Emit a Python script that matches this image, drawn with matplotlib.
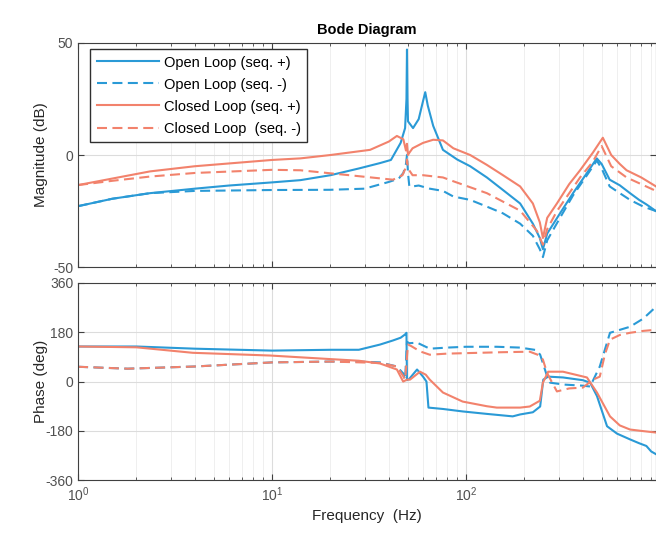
import matplotlib
matplotlib.use("Agg")
import matplotlib.pyplot as plt
from matplotlib.ticker import LogLocator, NullFormatter

plt.rcParams['font.family'] = ['Liberation Sans', 'DejaVu Sans']
plt.rcParams['mathtext.default'] = 'regular'
plt.rcParams['axes.unicode_minus'] = False

# Magnitude data (Hz, dB)
f_mag_ol_pos = [1, 1.5, 2.35, 4, 6, 10, 14, 20, 28, 36, 41, 46, 48.5, 49.3, 49.6, 49.9, 50.2, 53.3,
                57, 60, 61.6, 63.5, 67.7, 76, 90, 105, 128, 155, 190, 221, 240, 249, 262, 305,
                356, 420, 472, 500, 550, 620, 700, 780, 850, 953]
mag_ol_pos = [-22.8, -19.5, -17, -15, -13.6, -12.2, -11.2, -9, -6, -3.6, -2.2, 5.4, 12, 25, 47, 25,
              15, 12, 16, 24, 28, 22, 13, 2.3, -2, -5, -10, -15.6, -21.6, -30.6, -37, -42, -35,
              -26, -17, -8, -1.5, -4, -11, -13.5, -17, -20, -22, -25]

f_mag_ol_neg = [1, 1.5, 2.35, 4, 10, 20, 30, 40, 45, 47.5, 49, 49.6, 50.2, 51, 53, 57, 65, 76, 86,
                105, 128, 155, 190, 221, 240, 249, 262, 305, 356, 420, 472, 500, 550, 620, 700,
                820, 953]
mag_ol_neg = [-22.8, -19.5, -17, -16, -15.6, -15.5, -15, -12, -10.5, -8, -4, 0, -8, -14, -14,
              -13.6, -15, -16, -18.5, -20, -23, -26, -30.6, -36, -42, -45.5, -38, -28, -18, -9,
              -2.5, -6, -14, -17, -20, -23, -25]

f_mag_cl_pos = [1, 1.5, 2.35, 4, 10, 14, 20, 32, 40, 44, 47.5, 49, 49.6, 50.2, 51, 53, 60, 67.7,
                76, 86, 105, 128, 155, 190, 221, 240, 249, 262, 294, 340, 387, 450, 507, 560,
                620, 672, 800, 953]
mag_cl_pos = [-13.4, -10.5, -7.3, -5, -2.2, -1.5, 0, 2.3, 6, 8.5, 7, 2, 5, 0, 1, 3, 5.4, 6.8,
              6.5, 3, 0, -4.4, -9, -14, -21.6, -30, -37, -28, -21.6, -13, -6.8, 1, 7.7, 0, -4,
              -6.8, -10, -14]

f_mag_cl_neg = [1, 1.5, 2.35, 4, 10, 14, 25, 42, 47, 49.3, 49.6, 50.2, 53, 60, 76, 86, 128, 190,
                232, 249, 262, 294, 387, 450, 500, 560, 672, 800, 953]
mag_cl_neg = [-13.4, -11.5, -9.6, -8, -6.6, -6.8, -9, -11, -9, -5, -2, -6, -9, -9, -10, -11.7,
              -17, -24.8, -33.8, -40, -33, -25, -10, -3, 4, -5, -10, -13, -16]

# Phase data (Hz, deg)
f_ph_ol_pos = [1, 2, 4, 10, 20, 28, 36, 42, 46, 48.5, 49.3, 49.6, 51, 55.9, 60, 62.5, 64, 76,
               96, 128, 174, 190, 221, 241, 250, 265, 316, 400, 436, 473, 533, 600, 700, 780,
               850, 900, 953]
ph_ol_pos = [128, 128, 120, 113, 116, 116, 135, 150, 160, 172, 178, 5, 10, 44, 18, 0, -95, -100,
             -109, -118, -127, -120, -112, -91, 7, 18, 15, 5, -4, -53, -163, -190, -211, -225,
             -235, -255, -265]

f_ph_ol_neg = [1, 1.8, 4, 10, 20, 28, 36, 44, 47.4, 48.5, 49.6, 51, 55.9, 65, 80, 100, 144, 190,
               230, 241, 255, 262, 271, 320, 400, 436, 489, 552, 700, 820, 953]
ph_ol_neg = [54, 47, 55, 70, 73, 73, 70, 55, 30, 7, 145, 140, 142, 120, 124, 127, 127, 124, 115,
             98, 44, 18, -4, -11, -15, -18, 55, 178, 200, 230, 273]

f_ph_cl_pos = [1, 2, 3.9, 9.8, 20, 28, 36, 44, 47.4, 49.6, 51.4, 57.9, 62, 65, 76, 96, 128, 144,
               190, 213, 240, 249, 265, 316, 420, 473, 552, 620, 700, 800, 953]
ph_cl_pos = [128, 125, 105, 95, 82, 76, 66, 44, 0, 7, 7, 36, 25, 7, -40, -73, -90, -95, -95,
             -91, -70, -4, 36, 36, 15, -40, -127, -160, -175, -180, -186]

f_ph_cl_neg = [1, 1.8, 4, 10, 20, 36, 44, 47.4, 48.5, 50.2, 52, 58, 65, 80, 117, 150, 213, 240,
               249, 262, 294, 340, 400, 451, 489, 520, 552, 620, 700, 820, 953]
ph_cl_neg = [54, 47, 55, 70, 73, 68, 55, 20, 7, 135, 130, 110, 98, 102, 105, 107, 109, 95, 80,
             30, -36, -25, -22, 7, 18, 100, 153, 170, 178, 185, 189]

labels = ['Open Loop (seq. +)', 'Open Loop (seq. -)', 'Closed Loop (seq. +)', 'Closed Loop  (seq. -)']

blue = '#2a9ad6'
red = '#f2826c'
lw = 1.5
dash = (4.8, 2.6)

fig = plt.figure(figsize=(6.56, 5.42), dpi=100)
ax1 = fig.add_axes([0.119, 0.507, 0.881, 0.414])
ax2 = fig.add_axes([0.119, 0.114, 0.881, 0.364])

ax1.semilogx(f_mag_ol_pos, mag_ol_pos, color=blue, lw=lw, label=labels[0])
ax1.semilogx(f_mag_ol_neg, mag_ol_neg, color=blue, lw=lw, dashes=dash, label=labels[1])
ax1.semilogx(f_mag_cl_pos, mag_cl_pos, color=red, lw=lw, label=labels[2])
ax1.semilogx(f_mag_cl_neg, mag_cl_neg, color=red, lw=lw, dashes=dash, label=labels[3])

ax2.semilogx(f_ph_ol_pos, ph_ol_pos, color=blue, lw=lw)
ax2.semilogx(f_ph_ol_neg, ph_ol_neg, color=blue, lw=lw, dashes=dash)
ax2.semilogx(f_ph_cl_pos, ph_cl_pos, color=red, lw=lw)
ax2.semilogx(f_ph_cl_neg, ph_cl_neg, color=red, lw=lw, dashes=dash)

ax1.set_ylim(-50, 50)
ax1.set_yticks([-50, 0, 50])
ax2.set_ylim(-360, 360)
ax2.set_yticks([-360, -180, 0, 180, 360])

for ax in (ax1, ax2):
    ax.set_xlim(1, 953)
    ax.xaxis.set_major_locator(LogLocator(base=10, numticks=10))
    ax.xaxis.set_minor_locator(LogLocator(base=10, subs=range(2, 10), numticks=20))
    ax.xaxis.set_minor_formatter(NullFormatter())
    ax.grid(True, which='major', color='#dcdcdc', lw=0.8)
    ax.grid(True, which='minor', axis='x', color='#ececec', lw=0.6)
    ax.set_axisbelow(True)
    ax.tick_params(which='both', direction='in', top=True, right=True, colors='#404040',
                   labelcolor='#505050', labelsize=10)
    ax.tick_params(which='major', length=4)
    ax.tick_params(which='minor', length=2)
    for s in ax.spines.values():
        s.set_color('#404040')
        s.set_linewidth(0.8)

ax1.tick_params(labelbottom=False)
ax1.set_ylabel('Magnitude (dB)', fontsize=11, color='#262626')
ax2.set_ylabel('Phase (deg)', fontsize=11, color='#262626')
ax2.set_xlabel('Frequency  (Hz)', fontsize=11, color='#262626')
ax1.yaxis.set_label_coords(-0.052, 0.5)
ax2.yaxis.set_label_coords(-0.052, 0.5)
ax1.set_title('Bode Diagram', fontsize=10.5, fontweight='bold', pad=6)

leg = ax1.legend(loc='upper left', bbox_to_anchor=(0.008, 1.005), fontsize=10.5, frameon=True,
                 fancybox=False, edgecolor='#303030', framealpha=1, handlelength=4.3,
                 labelspacing=0.55, borderpad=0.45, handletextpad=0.3)
leg.get_frame().set_linewidth(1.0)

fig.savefig('out.png', dpi=100)
